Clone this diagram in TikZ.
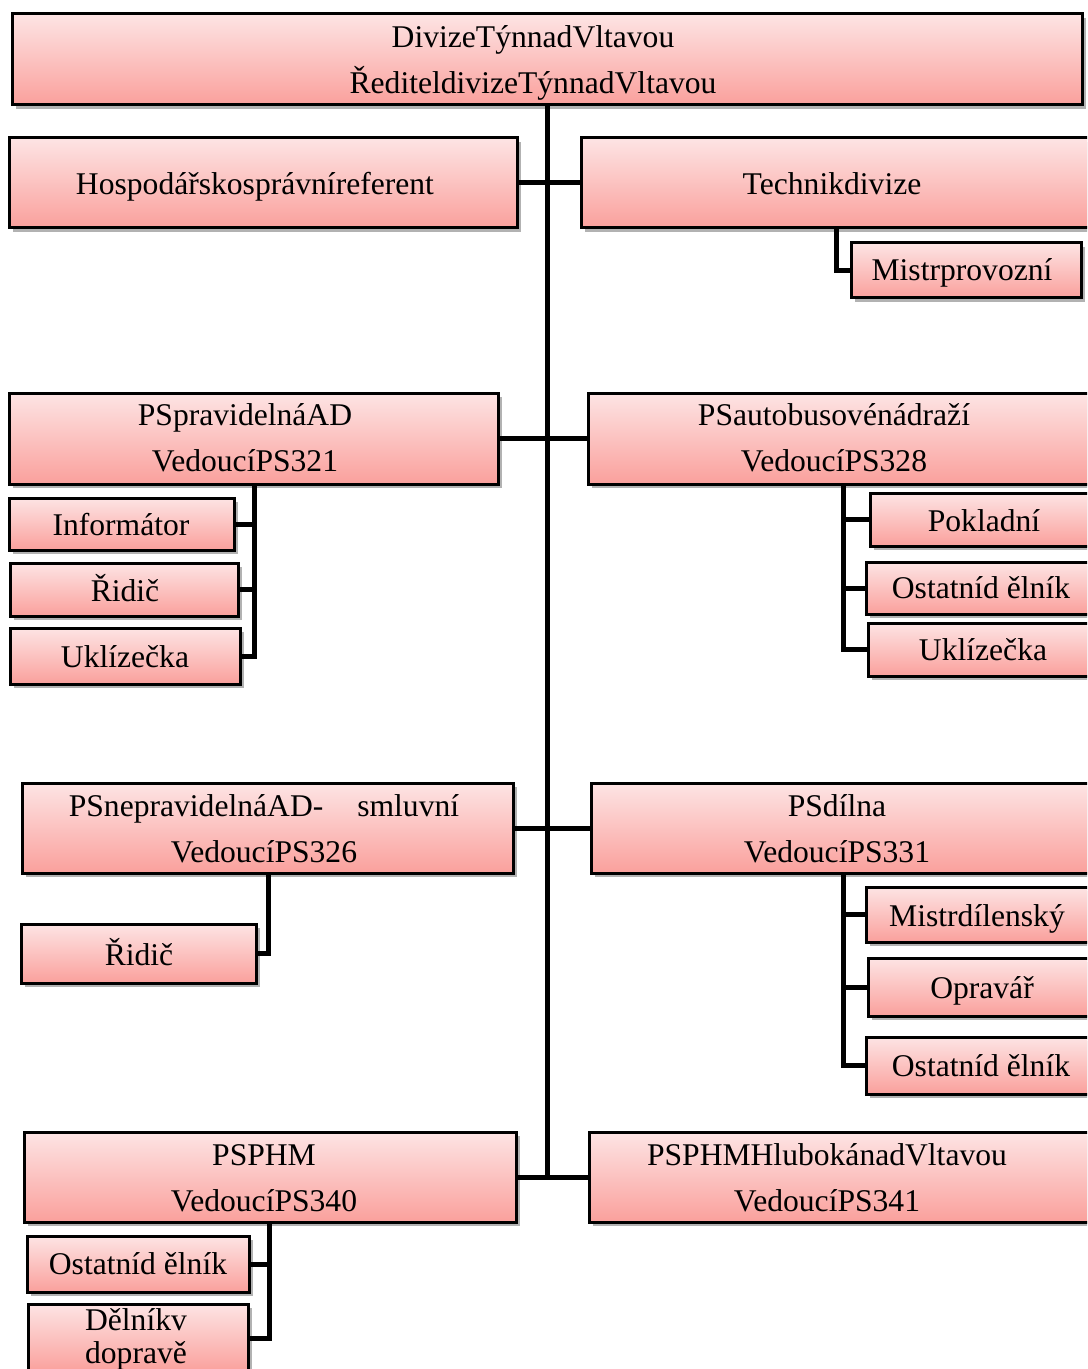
\documentclass[tikz,border=0pt]{standalone}
\usepackage{fontspec}
\setmainfont{Liberation Serif}
\usetikzlibrary{fit,shadows}
\definecolor{boxtop}{RGB}{253,228,228}
\definecolor{boxbot}{RGB}{250,160,156}
\tikzset{
  orgbox/.style={draw=black, line width=1.5pt, top color=boxtop, bottom color=boxbot,
    inner sep=0pt, drop shadow={shadow xshift=2pt, shadow yshift=-2pt, opacity=0.3, fill=black}},
  lbl/.style={font=\fontsize{15.8pt}{23pt}\selectfont, align=center, inner sep=0pt},
  conn/.style={line width=2.5pt, draw=black}
}
% \unitbox{name}{x1}{y1}{x2}{y2}{text x}{text y}{text}
\newcommand\unitbox[8]{%
  \node[orgbox, fit={(#2,#3) (#4,#5)}] (#1) {};
  \node[lbl] (#1-t) at (#6,#7) {#8};}
\begin{document}
\begin{tikzpicture}[x=0.5pt,y=-0.5pt]
\useasboundingbox (0,0) rectangle (1087,1369);
\clip (0,0) rectangle (1087,1369);

% division head
\unitbox{top}{12}{14}{1082}{105}{533}{63}{DivizeTýnnadVltavou\\ŘediteldivizeTýnnadVltavou}

% staff level
\unitbox{hosp}{9}{138}{517}{228}{255}{187}{Hospodářskosprávníreferent}
\unitbox{tech}{581}{138}{1100}{228}{832}{184}{Technikdivize}
\unitbox{mistrp}{851}{243}{1081}{298}{962}{273}{Mistrprovozní}

% operating units
\unitbox{psprav}{9}{393}{498}{484}{245}{438}{PSpravidelnáAD\\VedoucíPS321}
\unitbox{psauto}{588}{393}{1100}{484}{834}{438}{PSautobusovénádraží\\VedoucíPS328}
\unitbox{info}{9}{498}{234}{550}{121}{525}{Informátor}
\unitbox{ridA}{10}{563}{238}{616}{125}{588}{Řidič}
\unitbox{uklA}{10}{628}{240}{684}{125}{657}{Uklízečka}
\unitbox{pokl}{870}{493}{1100}{546}{984}{521}{Pokladní}
\unitbox{ostA}{866}{562}{1100}{614}{981}{588}{Ostatníd ělník}
\unitbox{uklB}{868}{623}{1100}{676}{983}{650}{Uklízečka}

\unitbox{psnepr}{22}{783}{513}{873}{264}{829}{PSnepravidelnáAD-\hspace{17pt}smluvní\\VedoucíPS326}
\unitbox{psdil}{591}{783}{1100}{873}{837}{829}{PSdílna\\VedoucíPS331}
\unitbox{ridB}{21}{924}{256}{983}{139}{952}{Řidič}
\unitbox{mistrd}{866}{887}{1100}{942}{977}{919}{Mistrdílenský}
\unitbox{oprav}{868}{958}{1100}{1016}{982}{991}{Opravář}
\unitbox{ostB}{866}{1037}{1100}{1094}{981}{1066}{Ostatníd ělník}

\unitbox{psphm}{24}{1132}{516}{1222}{264}{1178}{PSPHM\\VedoucíPS340}
\unitbox{psphmh}{589}{1132}{1100}{1222}{827}{1178}{PSPHMHlubokánadVltavou\\VedoucíPS341}
\unitbox{ostC}{27}{1236}{249}{1292}{138}{1264}{Ostatníd ělník}
\node[orgbox, fit={(28,1304) (248,1372)}] (deln) {};
\node[lbl, font=\fontsize{15.8pt}{16.5pt}\selectfont] (deln-t) at (136,1339) {Dělníkv\\dopravě};

% bus positions
\coordinate (trunkend) at (547,1178);
\coordinate (busT) at (836,0);
\coordinate (busA) at (254,0);
\coordinate (busB) at (843,0);
\coordinate (busC) at (268,0);
\coordinate (busD) at (843,0);
\coordinate (busE) at (269,0);

% main trunk and branches
\draw[conn] (top.south) -- (trunkend);
\draw[conn] (hosp.east) -- (tech.west);
\draw[conn] (psprav.east) -- (psauto.west);
\draw[conn] (psnepr.east) -- (psdil.west);
\draw[conn] (psphm.east) -- (psphmh.west);

% sub-unit connectors
\draw[conn] (tech.south -| busT) |- (mistrp.west);

\draw[conn] (psprav.south -| busA) |- (uklA.east);
\draw[conn] (info.east) -- (info.east -| busA);
\draw[conn] (ridA.east) -- (ridA.east -| busA);

\draw[conn] (psauto.south -| busB) |- (uklB.west);
\draw[conn] (pokl.west) -- (pokl.west -| busB);
\draw[conn] (ostA.west) -- (ostA.west -| busB);

\draw[conn] (psnepr.south -| busC) |- (ridB.east);

\draw[conn] (psdil.south -| busD) |- (ostB.west);
\draw[conn] (mistrd.west) -- (mistrd.west -| busD);
\draw[conn] (oprav.west) -- (oprav.west -| busD);

\draw[conn] (psphm.south -| busE) |- (deln.east);
\draw[conn] (ostC.east) -- (ostC.east -| busE);
\end{tikzpicture}
\end{document}
